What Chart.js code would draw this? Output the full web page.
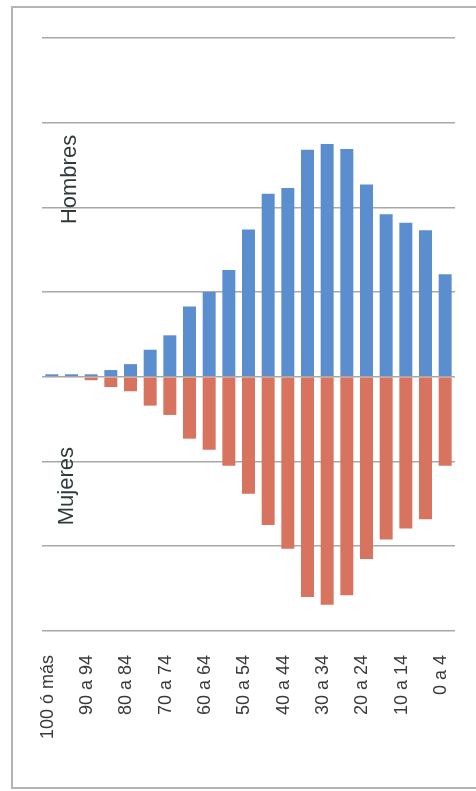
<!DOCTYPE html>
<html>
<head>
<meta charset="utf-8">
<script src="https://cdn.jsdelivr.net/npm/chart.js@4"></script>
<style>
    html, body { margin: 0; padding: 0; background: #fff; overflow: hidden; }
    body { width: 476px; height: 791px; position: relative; }
    #marco {
        position: absolute; left: 11px; top: 6px; width: 465px; height: 783px;
        box-sizing: border-box;
        border-left: 2px solid #b4b4b4; border-top: 2px solid #b4b4b4; border-bottom: 2px solid #b4b4b4;
        border-right: none;
    }
    #wrap { position: absolute; left: 0; top: 0; width: 476px; height: 791px; }
</style>
</head>
<body>
<div id="marco"></div>
<div id="wrap"><canvas id="piramide"></canvas></div>
<script>
// Grupos de edad (de mayor a menor)
const grupos = ['100 ó más', '95 a 99', '90 a 94', '85 a 89', '80 a 84', '75 a 79', '70 a 74',
    '65 a 69', '60 a 64', '55 a 59', '50 a 54', '45 a 49', '40 a 44', '35 a 39', '30 a 34',
    '25 a 29', '20 a 24', '15 a 19', '10 a 14', '5 a 9', '0 a 4'];

// Valores (unidades de la cuadrícula)
const hombres = [0.03, 0.03, 0.03, 0.08, 0.15, 0.32, 0.49, 0.83, 1.0, 1.26, 1.74,
    2.16, 2.23, 2.68, 2.75, 2.69, 2.27, 1.92, 1.82, 1.73, 1.21];
const mujeres = [-0.01, -0.01, -0.04, -0.12, -0.17, -0.34, -0.45, -0.73, -0.86, -1.05, -1.38,
    -1.75, -2.03, -2.6, -2.69, -2.58, -2.15, -1.92, -1.79, -1.68, -1.05];

// Rótulos dentro del gráfico: [texto, índice de categoría, valor]
const rotulos = [['Hombres', 0.9, 2.33], ['Mujeres', 0.75, -1.29]];

const rotulosPlugin = {
    id: 'rotulos',
    afterDatasetsDraw(chart) {
        const ctx = chart.ctx;
        const x = chart.scales.x, y = chart.scales.y;
        ctx.save();
        ctx.font = '22px "Liberation Sans", Arial, sans-serif';
        ctx.fillStyle = '#2f3a3a';
        ctx.textAlign = 'center';
        ctx.textBaseline = 'middle';
        rotulos.forEach(([texto, i, v]) => {
            ctx.save();
            ctx.translate(x.getPixelForValue(i), y.getPixelForValue(v));
            ctx.rotate(-Math.PI / 2);
            ctx.fillText(texto, 0, 0);
            ctx.restore();
        });
        ctx.restore();
    }
};

new Chart(document.getElementById('piramide'), {
    type: 'bar',
    data: {
        labels: grupos,
        datasets: [
            { label: 'Hombres', data: hombres, backgroundColor: '#5b8ecf' },
            { label: 'Mujeres', data: mujeres, backgroundColor: '#d8735f' }
        ]
    },
    options: {
        responsive: true,
        maintainAspectRatio: false,
        animation: false,
        datasets: { bar: { categoryPercentage: 1, barPercentage: 0.66 } },
        layout: { padding: { left: 42, right: 21, top: 38, bottom: 28 } },
        plugins: { legend: { display: false }, tooltip: { enabled: false } },
        scales: {
            x: {
                stacked: true,
                grid: { display: false, drawTicks: false },
                border: { display: false },
                afterFit: (s) => { s.paddingLeft = 0; s.paddingRight = 0; },
                ticks: {
                    autoSkip: false,
                    minRotation: 90,
                    maxRotation: 90,
                    padding: 24,
                    labelOffset: -4,
                    color: '#3a3a3a',
                    font: { family: '"Liberation Sans", Arial, sans-serif', size: 18 },
                    callback: (v, i) => i % 2 === 0 ? grupos[i] : ''
                }
            },
            y: {
                stacked: true,
                min: -3,
                max: 4,
                border: { display: false },
                grid: { color: '#a8a8a8', lineWidth: 1.5, drawTicks: false },
                ticks: { display: false, stepSize: 1 }
            }
        }
    },
    plugins: [rotulosPlugin]
});
</script>
</body>
</html>
